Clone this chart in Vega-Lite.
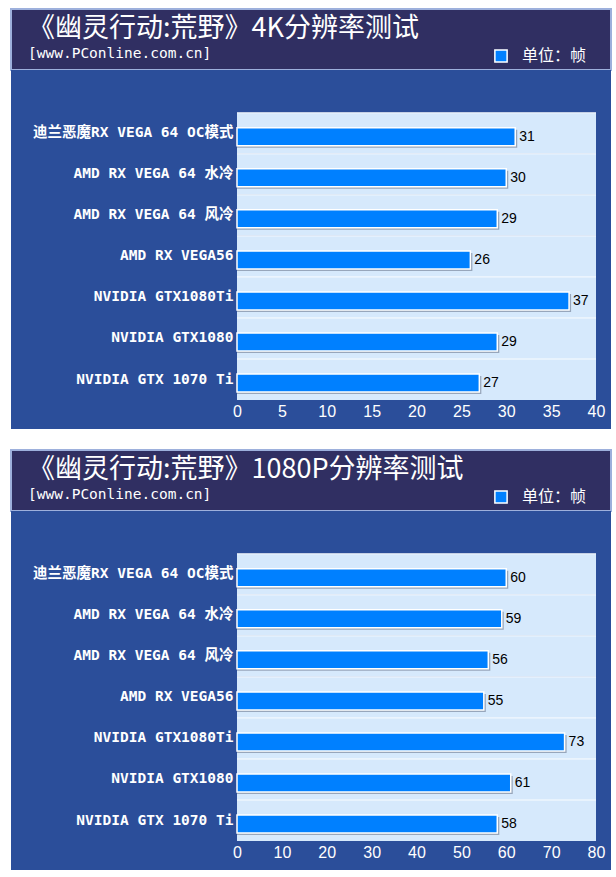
{
  "$schema": "https://vega.github.io/schema/vega-lite/v6.json",
  "padding": {"left": 10, "top": 8, "right": 6, "bottom": 9},
  "autosize": {"type": "pad"},
  "background": "white",
  "spacing": 20,
  "bounds": "full",
  "config": {"font": "Noto Sans CJK SC", "view": {"stroke": null}},
  "resolve": {"scale": {"x": "independent", "y": "independent", "color": "independent"}, "legend": {"color": "independent"}},
  "vconcat": [
    {
      "spacing": 0,
      "bounds": "flush",
      "resolve": {"scale": {"color": "independent"}, "legend": {"color": "independent"}},
      "vconcat": [
        {
          "width": 600,
          "height": 61,
          "view": {"fill": "#302f62", "stroke": "#9db0dc", "strokeWidth": 2},
          "title": {"text": "《幽灵行动:荒野》4K分辨率测试", "subtitle": "[www.PConline.com.cn]", "anchor": "start", "frame": "group", "offset": -52, "dx": 17, "color": "white", "fontSize": 27, "font": "Noto Sans CJK SC", "fontWeight": "normal", "subtitleColor": "white", "subtitleFont": "DejaVu Sans Mono", "subtitleFontSize": 14.5, "subtitlePadding": 4},
          "data": {"values": [{}]},
          "mark": {"type": "text"},
          "encoding": {}
        },
        {
          "width": 600,
          "height": 359,
          "view": {"fill": "#2b4e9a", "stroke": null},
          "data": {"values": [
            {"card": "迪兰恶魔RX VEGA 64 OC模式", "fps": 31},
            {"card": "AMD RX VEGA 64 水冷", "fps": 30},
            {"card": "AMD RX VEGA 64 风冷", "fps": 29},
            {"card": "AMD RX VEGA56", "fps": 26},
            {"card": "NVIDIA GTX1080Ti", "fps": 37},
            {"card": "NVIDIA GTX1080", "fps": 29},
            {"card": "NVIDIA GTX 1070 Ti", "fps": 27}
          ]},
          "encoding": {
            "y": {"field": "card", "type": "nominal", "sort": null, "title": null,
              "scale": {"type": "band", "paddingInner": 0, "paddingOuter": 0.874, "align": 0.596},
              "axis": {"orient": "left", "offset": -226, "domain": false, "ticks": false, "grid": false, "labelColor": "white", "labelFontSize": 14.5, "labelFont": "DejaVu Sans Mono, Noto Sans CJK SC", "labelFontWeight": "bold", "labelPadding": 4, "labelLimit": 400, "title": null}}
          },
          "layer": [
            {"mark": {"type": "rect", "fill": "#d6e9fc"},
             "encoding": {"x": {"datum": 0, "type": "quantitative", "title": null}, "x2": {"datum": 40}}},
            {"mark": {"type": "rule", "color": "white", "strokeWidth": 1, "yOffset": -20.5, "opacity": 0.9},
             "encoding": {"x": {"datum": 0, "type": "quantitative", "title": null}, "x2": {"datum": 40}}},
            {"mark": {"type": "bar", "size": 18, "fill": "#8795aa", "opacity": 0.8, "xOffset": 2, "yOffset": 5.5},
             "encoding": {"x": {"field": "fps", "type": "quantitative", "title": null}, "x2": {"datum": 0}}},
            {"mark": {"type": "bar", "size": 18, "stroke": "white", "strokeWidth": 1.5, "yOffset": 3.5},
             "encoding": {
               "x": {"field": "fps", "type": "quantitative", "title": null,
                 "scale": {"domain": [-25.18, 41.67], "nice": false, "zero": false},
                 "axis": {"orient": "bottom", "offset": -29, "values": [0, 5, 10, 15, 20, 25, 30, 35, 40], "domain": false, "ticks": false, "grid": false, "labelColor": "white", "labelFontSize": 16, "labelFont": "Liberation Sans Narrow, Liberation Sans", "labelPadding": 3, "labelFlush": false, "title": null}},
               "x2": {"datum": 0},
               "color": {"datum": "单位：帧", "type": "nominal",
                 "scale": {"range": ["#0080ff"]},
                 "legend": {"orient": "none", "legendX": 482, "legendY": -22, "title": null, "symbolType": "square", "symbolSize": 150, "symbolStrokeColor": "white", "symbolStrokeWidth": 1.5, "symbolOpacity": 1, "labelColor": "white", "labelFontSize": 16, "labelFont": "Noto Sans CJK SC", "labelOffset": 13, "padding": 0}}
             }},
            {"mark": {"type": "text", "align": "left", "baseline": "middle", "dx": 4, "yOffset": 3.5, "fontSize": 14, "font": "Liberation Sans", "color": "black"},
             "encoding": {"x": {"field": "fps", "type": "quantitative", "title": null}, "text": {"field": "fps", "type": "quantitative"}}}
          ]
        }
      ]
    },
    {
      "spacing": 0,
      "bounds": "flush",
      "resolve": {"scale": {"color": "independent"}, "legend": {"color": "independent"}},
      "vconcat": [
        {
          "width": 600,
          "height": 61,
          "view": {"fill": "#302f62", "stroke": "#9db0dc", "strokeWidth": 2},
          "title": {"text": "《幽灵行动:荒野》1080P分辨率测试", "subtitle": "[www.PConline.com.cn]", "anchor": "start", "frame": "group", "offset": -52, "dx": 17, "color": "white", "fontSize": 27, "font": "Noto Sans CJK SC", "fontWeight": "normal", "subtitleColor": "white", "subtitleFont": "DejaVu Sans Mono", "subtitleFontSize": 14.5, "subtitlePadding": 4},
          "data": {"values": [{}]},
          "mark": {"type": "text"},
          "encoding": {}
        },
        {
          "width": 600,
          "height": 359,
          "view": {"fill": "#2b4e9a", "stroke": null},
          "data": {"values": [
            {"card": "迪兰恶魔RX VEGA 64 OC模式", "fps": 60},
            {"card": "AMD RX VEGA 64 水冷", "fps": 59},
            {"card": "AMD RX VEGA 64 风冷", "fps": 56},
            {"card": "AMD RX VEGA56", "fps": 55},
            {"card": "NVIDIA GTX1080Ti", "fps": 73},
            {"card": "NVIDIA GTX1080", "fps": 61},
            {"card": "NVIDIA GTX 1070 Ti", "fps": 58}
          ]},
          "encoding": {
            "y": {"field": "card", "type": "nominal", "sort": null, "title": null,
              "scale": {"type": "band", "paddingInner": 0, "paddingOuter": 0.874, "align": 0.596},
              "axis": {"orient": "left", "offset": -226, "domain": false, "ticks": false, "grid": false, "labelColor": "white", "labelFontSize": 14.5, "labelFont": "DejaVu Sans Mono, Noto Sans CJK SC", "labelFontWeight": "bold", "labelPadding": 4, "labelLimit": 400, "title": null}}
          },
          "layer": [
            {"mark": {"type": "rect", "fill": "#d6e9fc"},
             "encoding": {"x": {"datum": 0, "type": "quantitative", "title": null}, "x2": {"datum": 80}}},
            {"mark": {"type": "rule", "color": "white", "strokeWidth": 1, "yOffset": -20.5, "opacity": 0.9},
             "encoding": {"x": {"datum": 0, "type": "quantitative", "title": null}, "x2": {"datum": 80}}},
            {"mark": {"type": "bar", "size": 18, "fill": "#8795aa", "opacity": 0.8, "xOffset": 2, "yOffset": 5.5},
             "encoding": {"x": {"field": "fps", "type": "quantitative", "title": null}, "x2": {"datum": 0}}},
            {"mark": {"type": "bar", "size": 18, "stroke": "white", "strokeWidth": 1.5, "yOffset": 3.5},
             "encoding": {
               "x": {"field": "fps", "type": "quantitative", "title": null,
                 "scale": {"domain": [-50.36, 83.34], "nice": false, "zero": false},
                 "axis": {"orient": "bottom", "offset": -29, "values": [0, 10, 20, 30, 40, 50, 60, 70, 80], "domain": false, "ticks": false, "grid": false, "labelColor": "white", "labelFontSize": 16, "labelFont": "Liberation Sans Narrow, Liberation Sans", "labelPadding": 3, "labelFlush": false, "title": null}},
               "x2": {"datum": 0},
               "color": {"datum": "单位：帧", "type": "nominal",
                 "scale": {"range": ["#0080ff"]},
                 "legend": {"orient": "none", "legendX": 482, "legendY": -22, "title": null, "symbolType": "square", "symbolSize": 150, "symbolStrokeColor": "white", "symbolStrokeWidth": 1.5, "symbolOpacity": 1, "labelColor": "white", "labelFontSize": 16, "labelFont": "Noto Sans CJK SC", "labelOffset": 13, "padding": 0}}
             }},
            {"mark": {"type": "text", "align": "left", "baseline": "middle", "dx": 4, "yOffset": 3.5, "fontSize": 14, "font": "Liberation Sans", "color": "black"},
             "encoding": {"x": {"field": "fps", "type": "quantitative", "title": null}, "text": {"field": "fps", "type": "quantitative"}}}
          ]
        }
      ]
    }
  ]
}
